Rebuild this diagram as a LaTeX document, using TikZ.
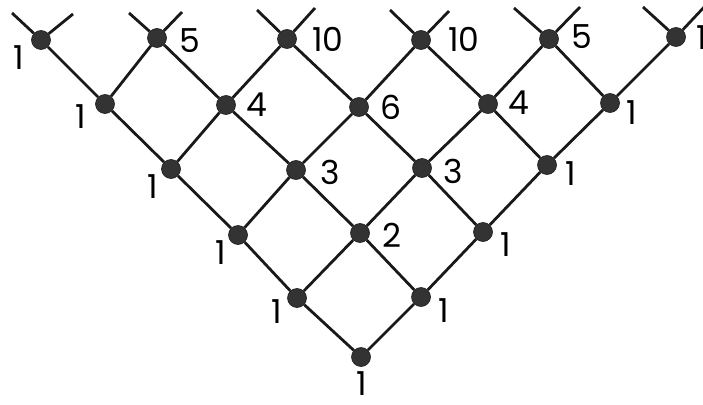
\documentclass[tikz,border=0pt]{standalone}
\usepackage{fontspec}
\setmainfont{Poppins}
\begin{document}
\begin{tikzpicture}[x=1pt,y=-1pt,
  dot/.style={circle,fill=black!80,draw=black!90,line width=0.6pt,minimum size=19pt,inner sep=0pt},
  num/.style={inner sep=0pt,font=\fontsize{33}{33}\selectfont},
  edge/.style={line width=2.8pt,black!90}]
\useasboundingbox (0,0) rectangle (703,404);
% nodes
\node[dot] (n00) at (361,357) {};
\node[dot] (n10) at (297,298) {};
\node[dot] (n11) at (421,297) {};
\node[dot] (n20) at (238,235) {};
\node[dot] (n21) at (360,233) {};
\node[dot] (n22) at (483,232) {};
\node[dot] (n30) at (171,169) {};
\node[dot] (n31) at (296,170) {};
\node[dot] (n32) at (422,168) {};
\node[dot] (n33) at (547,165) {};
\node[dot] (n40) at (105,104) {};
\node[dot] (n41) at (226,105) {};
\node[dot] (n42) at (359,107) {};
\node[dot] (n43) at (488,104) {};
\node[dot] (n44) at (610,103) {};
\node[dot] (n50) at (41,40) {};
\node[dot] (n51) at (157,38) {};
\node[dot] (n52) at (287,39) {};
\node[dot] (n53) at (421,40) {};
\node[dot] (n54) at (549,39) {};
\node[dot] (n55) at (676,37) {};
% stub ends
\coordinate (s50l) at (12,13);  \coordinate (s50r) at (73,14);
\coordinate (s51l) at (129,13); \coordinate (s51r) at (182,12);
\coordinate (s52l) at (257,10); \coordinate (s52r) at (315,8);
\coordinate (s53l) at (390,10); \coordinate (s53r) at (449,11);
\coordinate (s54l) at (514,8);  \coordinate (s54r) at (580,7);
\coordinate (s55l) at (643,7);  \coordinate (s55r) at (707,4);
% edges
\foreach \a/\b in {n00/n10,n00/n11,
  n10/n20,n10/n21,n11/n21,n11/n22,
  n20/n30,n20/n31,n21/n31,n21/n32,n22/n32,n22/n33,
  n30/n40,n30/n41,n31/n41,n31/n42,n32/n42,n32/n43,n33/n43,n33/n44,
  n40/n50,n40/n51,n41/n51,n41/n52,n42/n52,n42/n53,n43/n53,n43/n54,n44/n54,n44/n55,
  n50/s50l,n50/s50r,n51/s51l,n51/s51r,n52/s52l,n52/s52r,
  n53/s53l,n53/s53r,n54/s54l,n54/s54r,n55/s55l,n55/s55r}
  \draw[edge] (\a) -- (\b);
% labels
\node[num] (l50) at (19,58) {1};
\node[num] (l51) at (190,41) {5};
\node[num] (l52) at (328,39) {10};
\node[num] (l53) at (464,39) {10};
\node[num] (l54) at (582,37) {5};
\node[num] (l55) at (702,38) {1};
\node[num] (l40) at (81,117) {1};
\node[num] (l41) at (257,105) {4};
\node[num] (l42) at (391,107) {6};
\node[num] (l43) at (519,103) {4};
\node[num] (l44) at (632,113) {1};
\node[num] (l30) at (153,187) {1};
\node[num] (l31) at (330,172) {3};
\node[num] (l32) at (453,171) {3};
\node[num] (l33) at (571,174) {1};
\node[num] (l20) at (221,253) {1};
\node[num] (l21) at (392,235) {2};
\node[num] (l22) at (506,245) {1};
\node[num] (l10) at (277,312) {1};
\node[num] (l11) at (444,311) {1};
\node[num] (l00) at (362,384) {1};
\end{tikzpicture}
\end{document}
